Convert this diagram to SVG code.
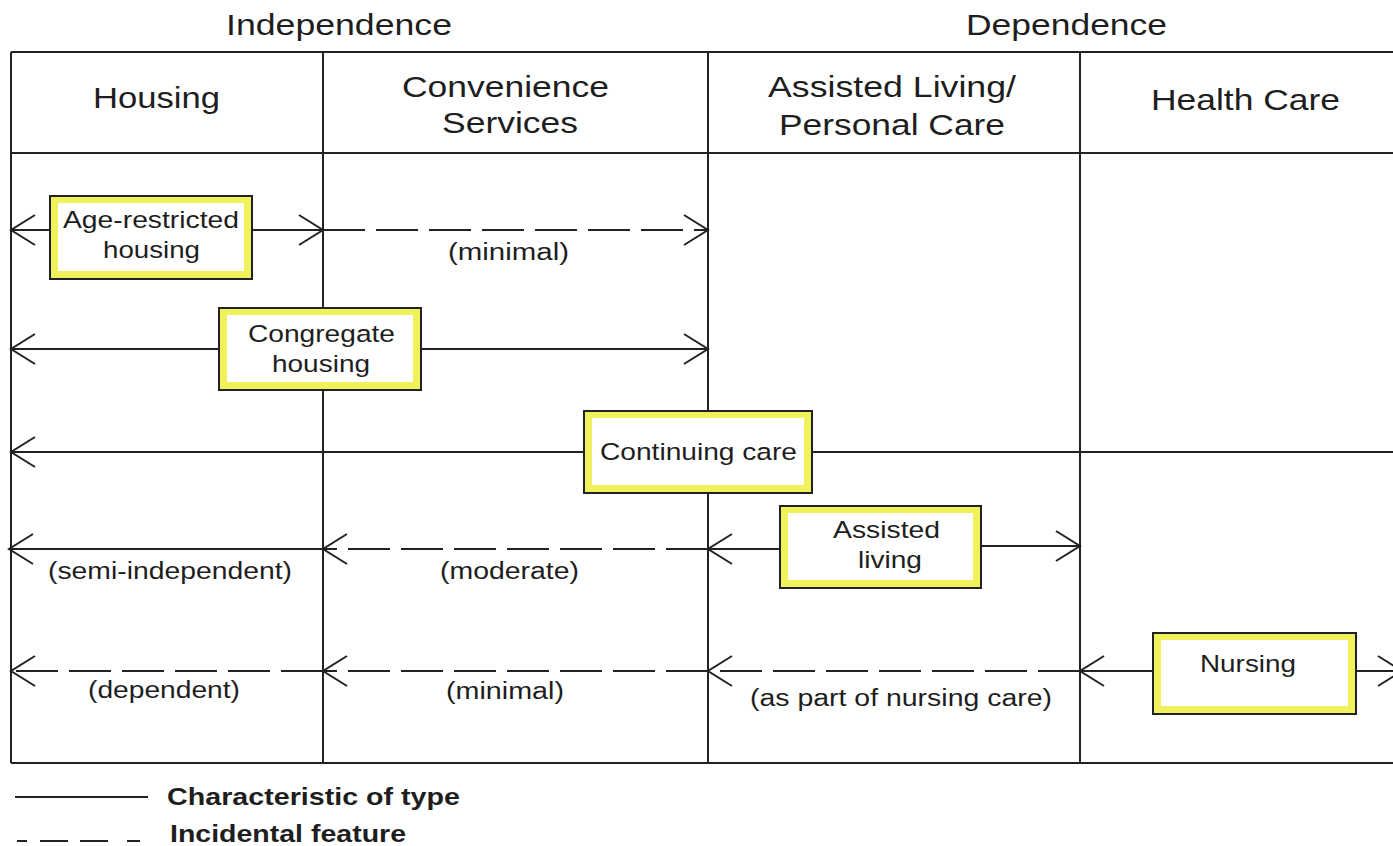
<svg xmlns="http://www.w3.org/2000/svg" width="1393" height="846" viewBox="0 0 1393 846">
  <style>
    .grid { stroke: #222; stroke-width: 2; fill: none; }
    .solid { stroke: #222; stroke-width: 2; fill: none; }
    .dash { stroke: #222; stroke-width: 2; fill: none; stroke-dasharray: 42 11; }
    .arrow { marker-end: url(#open); }
    .frame { fill: #eff25c; stroke: #222; stroke-width: 2; }
    .inner { fill: #fff; }
    text { font-family: "Liberation Sans", Arial, sans-serif; fill: #1e1e1e; }
    .head { font-size: 29px; }
    .box { font-size: 24.5px; }
    .lbl { font-size: 23px; }
    .leg { font-size: 24px; font-weight: bold; }
  </style>
  <defs>
    <!-- open V arrowhead, tip at the end of the line -->
    <marker id="open" markerUnits="userSpaceOnUse" markerWidth="30" markerHeight="34"
            refX="26" refY="17" orient="auto" viewBox="0 0 30 34" overflow="visible">
      <path d="M2,2 L26,17 L2,32" fill="none" stroke="#222" stroke-width="2"/>
    </marker>
  </defs>

  <rect width="1393" height="846" fill="#fff"/>

  <!-- group headings -->
  <g id="headings">
    <text class="head" x="226" y="35" textLength="226" lengthAdjust="spacingAndGlyphs">Independence</text>
    <text class="head" x="966" y="35" textLength="201" lengthAdjust="spacingAndGlyphs">Dependence</text>
  </g>

  <!-- table grid -->
  <g id="grid" class="grid">
    <line x1="11" y1="52" x2="1393" y2="52"/>
    <line x1="11" y1="153" x2="1393" y2="153"/>
    <line x1="11" y1="763" x2="1393" y2="763"/>
    <line x1="11" y1="52" x2="11" y2="763"/>
    <line x1="323" y1="52" x2="323" y2="763"/>
    <line x1="708" y1="52" x2="708" y2="763"/>
    <line x1="1080" y1="52" x2="1080" y2="763"/>
  </g>

  <!-- column headers -->
  <g id="columns">
    <text class="head" x="93" y="108" textLength="127" lengthAdjust="spacingAndGlyphs">Housing</text>
    <text class="head" x="402" y="97" textLength="207" lengthAdjust="spacingAndGlyphs">Convenience</text>
    <text class="head" x="442" y="133" textLength="136" lengthAdjust="spacingAndGlyphs">Services</text>
    <text class="head" x="768" y="97" textLength="248" lengthAdjust="spacingAndGlyphs">Assisted Living/</text>
    <text class="head" x="779" y="135" textLength="226" lengthAdjust="spacingAndGlyphs">Personal Care</text>
    <text class="head" x="1151" y="110" textLength="189" lengthAdjust="spacingAndGlyphs">Health Care</text>
  </g>

  <!-- connectors -->
  <g id="connectors">
    <!-- age-restricted housing -->
    <line class="solid arrow" x1="50" y1="230" x2="11" y2="230"/>
    <line class="solid arrow" x1="252" y1="230" x2="323" y2="230"/>
    <line class="dash arrow" x1="323" y1="230" x2="708" y2="230"/>
    <!-- congregate housing -->
    <line class="solid arrow" x1="219" y1="349" x2="11" y2="349"/>
    <line class="solid arrow" x1="421" y1="349" x2="708" y2="349"/>
    <!-- continuing care -->
    <line class="solid arrow" x1="584" y1="452" x2="11" y2="452"/>
    <line class="solid" x1="812" y1="452" x2="1393" y2="452"/>
    <!-- assisted living -->
    <line class="solid arrow" x1="981" y1="546" x2="1080" y2="546"/>
    <line class="solid arrow" x1="780" y1="549" x2="708" y2="549"/>
    <line class="dash arrow" x1="708" y1="549" x2="323" y2="549"/>
    <line class="solid arrow" x1="323" y1="549" x2="9" y2="549"/>
    <!-- nursing -->
    <line class="solid arrow" x1="1356" y1="671" x2="1402" y2="671"/>
    <line class="solid arrow" x1="1153" y1="671" x2="1080" y2="671"/>
    <line class="dash arrow" x1="1080" y1="671" x2="708" y2="671"/>
    <line class="dash arrow" x1="708" y1="671" x2="323" y2="671"/>
    <line class="dash arrow" x1="323" y1="671" x2="11" y2="671"/>
  </g>

  <!-- connector labels -->
  <g id="labels">
    <text class="lbl" x="448" y="260" textLength="121" lengthAdjust="spacingAndGlyphs">(minimal)</text>
    <text class="lbl" x="48" y="579" textLength="244" lengthAdjust="spacingAndGlyphs">(semi-independent)</text>
    <text class="lbl" x="440" y="579" textLength="139" lengthAdjust="spacingAndGlyphs">(moderate)</text>
    <text class="lbl" x="88" y="698" textLength="152" lengthAdjust="spacingAndGlyphs">(dependent)</text>
    <text class="lbl" x="446" y="699" textLength="118" lengthAdjust="spacingAndGlyphs">(minimal)</text>
    <text class="lbl" x="750" y="706" textLength="302" lengthAdjust="spacingAndGlyphs">(as part of nursing care)</text>
  </g>

  <!-- nodes -->
  <g id="age-restricted-housing">
    <rect class="frame" x="50" y="196" width="202" height="83"/>
    <rect class="inner" x="58" y="203" width="186" height="68"/>
    <text class="box" x="63" y="228" textLength="176" lengthAdjust="spacingAndGlyphs">Age-restricted</text>
    <text class="box" x="103" y="258" textLength="97" lengthAdjust="spacingAndGlyphs">housing</text>
  </g>
  <g id="congregate-housing">
    <rect class="frame" x="219" y="308" width="202" height="82"/>
    <rect class="inner" x="227" y="315" width="186" height="67"/>
    <text class="box" x="248" y="342" textLength="147" lengthAdjust="spacingAndGlyphs">Congregate</text>
    <text class="box" x="272" y="372" textLength="98" lengthAdjust="spacingAndGlyphs">housing</text>
  </g>
  <g id="continuing-care">
    <rect class="frame" x="584" y="411" width="228" height="82"/>
    <rect class="inner" x="592" y="418" width="212" height="67"/>
    <text class="box" x="600" y="460" textLength="197" lengthAdjust="spacingAndGlyphs">Continuing care</text>
  </g>
  <g id="assisted-living">
    <rect class="frame" x="780" y="506" width="201" height="82"/>
    <rect class="inner" x="788" y="513" width="185" height="67"/>
    <text class="box" x="833" y="538" textLength="107" lengthAdjust="spacingAndGlyphs">Assisted</text>
    <text class="box" x="858" y="568" textLength="64" lengthAdjust="spacingAndGlyphs">living</text>
  </g>
  <g id="nursing">
    <rect class="frame" x="1153" y="633" width="203" height="81"/>
    <rect class="inner" x="1161" y="640" width="187" height="66"/>
    <text class="box" x="1200" y="672" textLength="96" lengthAdjust="spacingAndGlyphs">Nursing</text>
  </g>

  <!-- legend -->
  <g id="legend">
    <line class="solid" x1="15" y1="797" x2="148" y2="797"/>
    <text class="leg" x="167" y="805" textLength="293" lengthAdjust="spacingAndGlyphs">Characteristic of type</text>
    <g class="solid">
      <line x1="17" y1="841" x2="27" y2="841"/>
      <line x1="40" y1="841" x2="68" y2="841"/>
      <line x1="80" y1="841" x2="108" y2="841"/>
      <line x1="127" y1="841" x2="140" y2="841"/>
    </g>
    <text class="leg" x="170" y="842" textLength="236" lengthAdjust="spacingAndGlyphs">Incidental feature</text>
  </g>
</svg>
